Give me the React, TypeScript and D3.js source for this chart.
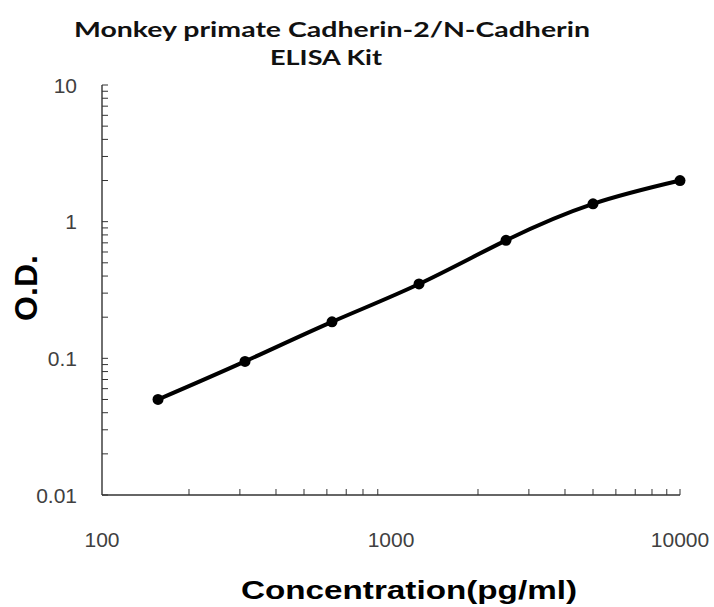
import { useMemo } from "react";
import * as d3 from "d3";

const WIDTH = 714;
const HEIGHT = 607;
const PLOT = { left: 102, right: 680, top: 85, bottom: 495 };

// standard curve
const concentrations = [156.25, 312.5, 625, 1250, 2500, 5000, 10000];
const odValues = [0.05, 0.095, 0.185, 0.35, 0.73, 1.35, 2.0];

const xTickValues = [100, 1000, 10000];
const yTickValues = [0.01, 0.1, 1, 10];
const titleLines = ["Monkey primate Cadherin-2/N-Cadherin", "ELISA Kit"];

const LABEL_FONT = "'Liberation Sans', Arial, sans-serif";
const TITLE_FONT = "Lato, 'Open Sans', sans-serif";

export default function App() {
    const xScale = useMemo(
        () => d3.scaleLog().domain([100, 10000]).range([PLOT.left, PLOT.right]),
        []
    );
    const yScale = useMemo(
        () => d3.scaleLog().domain([0.01, 10]).range([PLOT.bottom, PLOT.top]),
        []
    );

    const points = concentrations.map((c, i) => [c, odValues[i]] as [number, number]);

    const line = d3
        .line<[number, number]>()
        .x((d) => xScale(d[0]))
        .y((d) => yScale(d[1]))
        .curve(d3.curveNatural);

    // minor ticks: every 1..9 inside each decade
    const xMinor: number[] = [];
    for (let e = 2; e < 4; e++) {
        for (let m = 2; m <= 9; m++) xMinor.push(m * Math.pow(10, e));
    }
    xMinor.push(10000);
    const yMinor: number[] = [];
    for (let e = -2; e < 1; e++) {
        for (let m = 1; m <= 9; m++) yMinor.push(m * Math.pow(10, e));
    }
    yMinor.push(10);

    return (
        <svg
            width={WIDTH}
            height={HEIGHT}
            style={{ position: "absolute", left: 0, top: 0, background: "#fff" }}
        >
            {/* title, the source is stretched sideways so fix the widths */}
            {titleLines.map((t, i) => (
                <text
                    key={i}
                    x={i === 0 ? 74 : 270}
                    y={37 + i * 28}
                    textLength={i === 0 ? 516 : 112}
                    lengthAdjust="spacingAndGlyphs"
                    fontFamily={TITLE_FONT}
                    fontWeight="bold"
                    fontSize={21}
                    fill="#111"
                >
                    {t}
                </text>
            ))}

            {/* axes */}
            <line x1={PLOT.left} x2={PLOT.left} y1={PLOT.top} y2={PLOT.bottom} stroke="#333" strokeWidth={1.4} />
            <line x1={PLOT.left} x2={PLOT.right} y1={PLOT.bottom} y2={PLOT.bottom} stroke="#333" strokeWidth={1.4} />

            <g>
                {yMinor.map((v, i) => (
                    <line
                        key={i}
                        x1={PLOT.left}
                        x2={PLOT.left + 6}
                        y1={yScale(v)}
                        y2={yScale(v)}
                        stroke="#333"
                        strokeWidth={1}
                    />
                ))}
                {xMinor.map((v, i) => (
                    <line
                        key={i}
                        x1={xScale(v)}
                        x2={xScale(v)}
                        y1={PLOT.bottom}
                        y2={PLOT.bottom - 6}
                        stroke="#333"
                        strokeWidth={1}
                    />
                ))}
            </g>

            {/* tick labels */}
            <g fontFamily={LABEL_FONT} fontSize={21} fill="#404040">
                {yTickValues.map((v, i) => (
                    <text
                        key={i}
                        x={PLOT.left - 25}
                        y={yScale(v)}
                        textAnchor="end"
                        dominantBaseline="central"
                    >
                        {v}
                    </text>
                ))}
                {xTickValues.map((v, i) => (
                    <text
                        key={i}
                        x={xScale(v)}
                        y={547}
                        textAnchor="middle"
                    >
                        {v}
                    </text>
                ))}
            </g>

            {/* axis titles */}
            <text
                x={241}
                y={599}
                textLength={336}
                lengthAdjust="spacingAndGlyphs"
                fontFamily={LABEL_FONT}
                fontWeight="bold"
                fontSize={26}
                fill="#000"
            >
                Concentration(pg/ml)
            </text>
            <text
                transform={`translate(37, ${288}) rotate(-90)`}
                textAnchor="middle"
                fontFamily={LABEL_FONT}
                fontWeight="bold"
                fontSize={32}
                fill="#000"
            >
                O.D.
            </text>

            {/* curve and points */}
            <path d={line(points) || ""} fill="none" stroke="#000" strokeWidth={4} strokeLinecap="round" />
            {points.map((d, i) => (
                <circle key={i} cx={xScale(d[0])} cy={yScale(d[1])} r={5.5} fill="#000" />
            ))}
        </svg>
    );
}
